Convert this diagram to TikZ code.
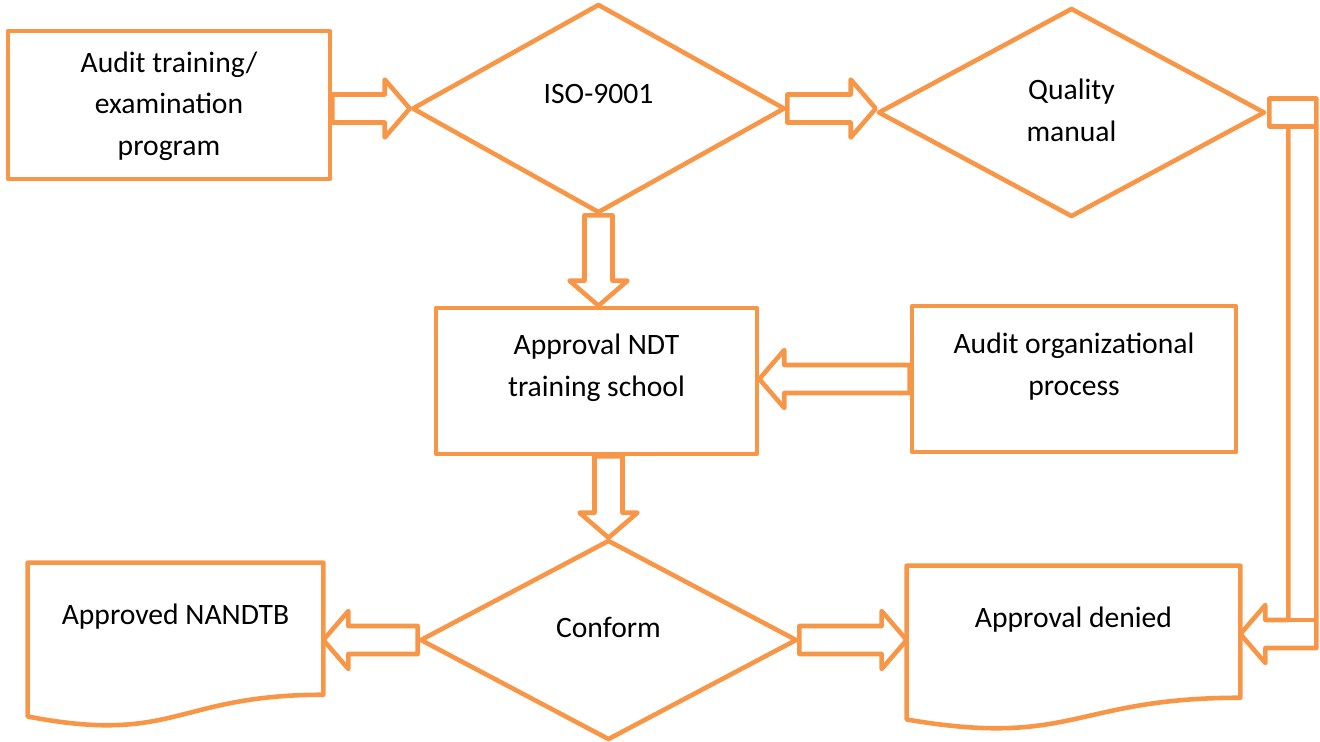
\documentclass[tikz,border=0pt]{standalone}
\usepackage{fontspec}
\setmainfont{Carlito}
\usepackage{tikz}
\usetikzlibrary{shapes,arrows,calc}
\definecolor{orng}{HTML}{F79646}
\tikzstyle{r} = [rectangle, inner sep=0pt, align=center, draw=orng, line width=2.6pt, line join=round, text depth=0pt]
\tikzstyle{dia} = [diamond, inner sep=0pt, align=center, draw=orng, line width=2.6pt, line join=round, text height=0pt]
\tikzstyle{doc} = [rectangle, inner sep=0pt, align=center, minimum height=3.28cm, text height=0pt, text depth=0.84cm]
\tikzstyle{fat} = [draw=orng, line width=2.6pt, line join=round]
% block arrow from #1 to #2
\newcommand{\fatarrow}[2]{%
  \coordinate (fa) at (#1);
  \coordinate (fb) at (#2);
  \coordinate (fh) at ($(fb)!0.5cm!(fa)$);
  \draw[fat] ($(fa)!0.28cm!90:(fb)$) -- ($(fh)!0.28cm!90:(fb)$) -- ($(fh)!0.58cm!90:(fb)$) -- (fb)
    -- ($(fh)!0.58cm!-90:(fb)$) -- ($(fh)!0.28cm!-90:(fb)$) -- ($(fa)!0.28cm!-90:(fb)$) -- cycle;}
% document outline with wavy bottom
\newcommand{\docline}[1]{%
  \draw[fat] (#1.north west) -- (#1.north east) -- ($(#1.north east)!0.802!(#1.south east)$)
    .. controls ($(#1.north)!0.802!(#1.south)$) and ($(#1.north)!1.1075!(#1.south)$) .. ($(#1.north west)!0.934!(#1.south west)$) -- cycle;}

\begin{document}
\begin{tikzpicture}[node distance=5cm, font=\fontsize{16.85}{23.9}\selectfont]
		\useasboundingbox (0,0) rectangle (26.4,-14.84);
		\node[r, minimum width=6.44cm, minimum height=2.96cm, text height=2.04cm] (1) at (3.38,-2.10) {Audit training/\\examination\\program};
		\node[dia, right of=1, xshift=3.59cm, yshift=-0.07cm, minimum width=7.46cm, minimum height=4.18cm, text depth=0.22cm] (2) {ISO-9001};
		\node[dia, right of=2, xshift=4.46cm, yshift=-0.08cm, minimum width=7.74cm, minimum height=4.18cm, text height=1.18cm, text depth=0pt] (3) {Quality\\manual};
		\node[r, below of=2, xshift=-0.04cm, yshift=-0.45cm, minimum width=6.42cm, minimum height=2.92cm, text height=0.6cm] (4) {Approval NDT\\training school};
		\node[r, right of=4, xshift=4.55cm, yshift=0.04cm, minimum width=6.48cm, minimum height=2.92cm, text height=0.64cm] (5) {Audit organizational\\process};
		\node[dia, below of=4, xshift=0.24cm, yshift=-0.18cm, minimum width=7.54cm, minimum height=4cm, text depth=0.12cm] (6) {Conform};
		\node[doc, left of=6, xshift=-3.66cm, yshift=-0.10cm, minimum width=5.9cm] (7) {Approved NANDTB};
		\node[doc, right of=6, xshift=4.30cm, yshift=-0.16cm, minimum width=6.66cm] (8) {Approval denied};
		\docline{7}
		\docline{8}
		\fatarrow{1.east |- 2.west}{2.west}
		\fatarrow{2.east}{3.west |- 2.east}
		\fatarrow{2.south}{4.north -| 2.south}
		\fatarrow{5.west}{4.east |- 5.west}
		\fatarrow{4.south -| 6.north}{6.north}
		\fatarrow{6.west}{7.east |- 6.west}
		\fatarrow{6.east}{8.west |- 6.east}
		% bent arrow from quality manual down to approval denied
		\coordinate (qt) at (3.east);
		\coordinate (dt) at ($(8.east)+(0,0.28)$);
		\coordinate (qd) at (qt |- dt);
		\draw[fat] ($(qt)+(0.04,0.28)$) -- ($(qt)+(0.98,0.28)$) -- ($(qd)+(0.98,-0.28)$) -- ($(dt)+(0.5,-0.28)$) -- ($(dt)+(0.5,-0.58)$) -- (dt)
			-- ($(dt)+(0.5,0.58)$) -- ($(dt)+(0.5,0.28)$) -- ($(qd)+(0.42,0.28)$) -- ($(qt)+(0.42,-0.28)$) -- ($(qt)+(0.04,-0.28)$) -- cycle;
		\draw[fat] ($(qt)+(0.42,-0.28)$) -- ($(qt)+(0.98,-0.28)$);
		\draw[fat] ($(qd)+(0.42,0.28)$) -- ($(qd)+(0.98,0.28)$);
\end{tikzpicture}
\end{document}
